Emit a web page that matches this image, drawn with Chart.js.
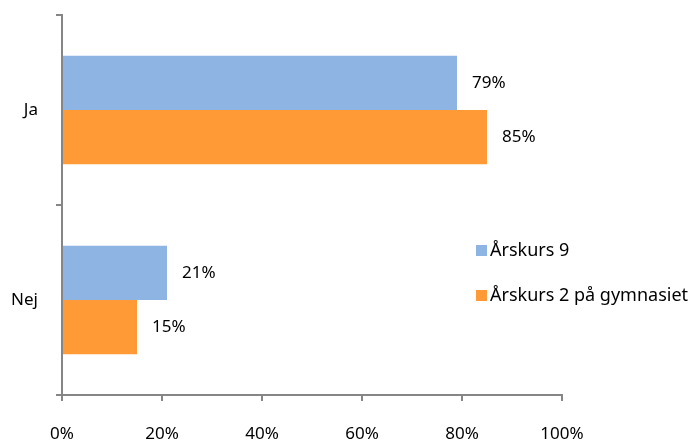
<!DOCTYPE html>
<html>
<head>
<meta charset="utf-8">
<script src="https://cdn.jsdelivr.net/npm/chart.js@4"></script>
<style>
  body { margin: 0; background: #fff; }
  #wrap { position: relative; width: 695px; height: 440px; }
  #legend { position: absolute; left: 476px; top: 237px; font-family: "Noto Sans", sans-serif; font-size: 18px; color: #000; }
  #legend div { height: 45px; display: flex; align-items: flex-start; white-space: nowrap; }
  #legend span.box { display: inline-block; width: 11px; height: 11px; margin: 8px 3px 0 0; }
</style>
</head>
<body>
<div id="wrap">
  <canvas id="chart" width="695" height="440"></canvas>
  <div id="legend"></div>
</div>
<script>
// data
const categories = ["Ja", "Nej"];
const seriesNames = ["Årskurs 9", "Årskurs 2 på gymnasiet"];
const arskurs9 = [79, 21];
const gymnasiet = [85, 15];
const tickLabels = ["0%", "20%", "40%", "60%", "80%", "100%"];
const colors = ["#8EB4E3", "#FF9A36"];

const fontFamily = '"Noto Sans", sans-serif';

// value labels at bar ends
const valueLabels = {
    id: "valueLabels",
    afterDatasetsDraw(chart) {
        const ctx = chart.ctx;
        ctx.save();
        ctx.font = "17px " + fontFamily;
        ctx.fillStyle = "#000";
        ctx.textAlign = "left";
        ctx.textBaseline = "middle";
        chart.data.datasets.forEach((ds, i) => {
            chart.getDatasetMeta(i).data.forEach((bar, j) => {
                ctx.fillText(ds.data[j] + "%", bar.x + 15, bar.y);
            });
        });
        ctx.restore();
    }
};

let ctx = document.getElementById("chart");
new Chart(ctx, {
    type: "bar",
    data: {
        labels: categories,
        datasets: [
            { label: seriesNames[0], data: arskurs9, backgroundColor: colors[0] },
            { label: seriesNames[1], data: gymnasiet, backgroundColor: colors[1] }
        ]
    },
    options: {
        indexAxis: "y",
        responsive: false,
        animation: false,
        categoryPercentage: 0.57,
        barPercentage: 1,
        layout: { padding: { top: 15, right: 133, left: 0, bottom: 0 } },
        plugins: { legend: { display: false }, tooltip: { enabled: false } },
        scales: {
            x: {
                min: 0, max: 100,
                ticks: {
                    stepSize: 20,
                    padding: 23,
                    color: "#000",
                    font: { family: fontFamily, size: 17 },
                    callback: (v, i) => tickLabels[i]
                },
                grid: { drawOnChartArea: false, drawTicks: true, tickLength: 6, color: "#868686", lineWidth: 2 },
                border: { color: "#868686", width: 2 },
                afterFit: s => { s.height = 45; }
            },
            y: {
                ticks: {
                    padding: 18,
                    color: "#000",
                    font: { family: fontFamily, size: 17 }
                },
                grid: { drawOnChartArea: false, drawTicks: true, tickLength: 6, color: "#868686", lineWidth: 2, offset: true },
                border: { color: "#868686", width: 2 },
                afterFit: s => { s.width = 62; s.paddingTop = 0; s.paddingBottom = 0; }
            }
        }
    },
    plugins: [valueLabels]
});

// legend
$legend = document.getElementById("legend");
seriesNames.forEach((name, i) => {
    let row = document.createElement("div");
    row.innerHTML = `<span class="box" style="background:${colors[i]}"></span>${name}`;
    $legend.appendChild(row);
});
</script>
</body>
</html>
